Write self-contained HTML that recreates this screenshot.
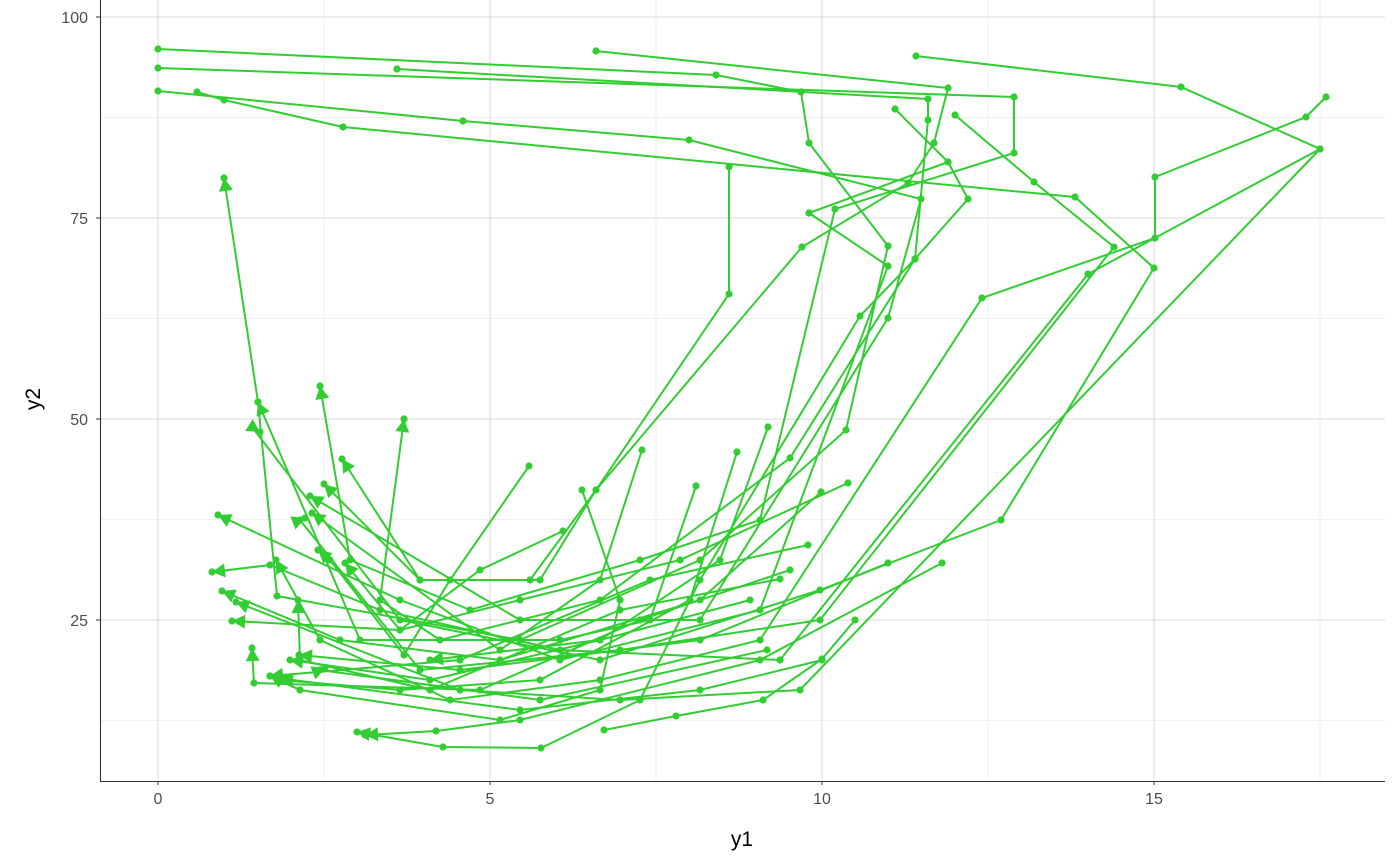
<!DOCTYPE html>
<html><head><meta charset="utf-8"><style>
body{margin:0;background:#fff;}
svg{display:block;font-family:"Liberation Sans",sans-serif;}
</style></head><body>
<svg id="s" width="1400" height="866" viewBox="0 0 1400 866">
<g stroke="#ebebeb" stroke-width="0.8">
<line x1="100" x2="1385" y1="117.5" y2="117.5"/><line x1="100" x2="1385" y1="318.5" y2="318.5"/><line x1="100" x2="1385" y1="519.5" y2="519.5"/><line x1="100" x2="1385" y1="720.5" y2="720.5"/>
<line y1="0" y2="781" x1="324" x2="324"/><line y1="0" y2="781" x1="656" x2="656"/><line y1="0" y2="781" x1="988" x2="988"/><line y1="0" y2="781" x1="1320" x2="1320"/>
</g>
<g stroke="#d9d9d9" stroke-width="1">
<line x1="100" x2="1385" y1="17" y2="17"/><line x1="100" x2="1385" y1="218" y2="218"/><line x1="100" x2="1385" y1="419" y2="419"/><line x1="100" x2="1385" y1="620" y2="620"/>
<line y1="0" y2="781" x1="158" x2="158"/><line y1="0" y2="781" x1="490" x2="490"/><line y1="0" y2="781" x1="822" x2="822"/><line y1="0" y2="781" x1="1154" x2="1154"/>
</g>
<g id="d"></g>
<line x1="100.5" y1="0" x2="100.5" y2="781" stroke="#333" stroke-width="1.1"/>
<line x1="100" y1="781.5" x2="1385" y2="781.5" stroke="#333" stroke-width="1.1"/>
<g font-size="16" fill="#4d4d4d" text-anchor="end">
<text x="88" y="23">100</text><text x="88" y="224">75</text><text x="88" y="425">50</text><text x="88" y="626">25</text>
</g>
<g stroke="#333"><line x1="96" x2="100" y1="17" y2="17"/><line x1="96" x2="100" y1="218" y2="218"/><line x1="96" x2="100" y1="419" y2="419"/><line x1="96" x2="100" y1="620" y2="620"/>
<line x1="158" x2="158" y1="781" y2="785"/><line x1="490" x2="490" y1="781" y2="785"/><line x1="822" x2="822" y1="781" y2="785"/><line x1="1154" x2="1154" y1="781" y2="785"/></g>
<g font-size="16" fill="#4d4d4d" text-anchor="middle">
<text x="158" y="804">0</text><text x="490" y="804">5</text><text x="822" y="804">10</text><text x="1154" y="804">15</text>
</g>
<text x="742" y="846" font-size="21" text-anchor="middle">y1</text>
<text transform="translate(40,399) rotate(-90)" font-size="21" text-anchor="middle">y2</text>
</svg>
<script>
var S=[
[[158,49],[716,75],[801,92],[809,143],[888,246],[846,430],[700,560],[520,640],[277,596],[258,402],[224,178]],
[[158,68],[1014,97],[1014,153],[835,209],[760,520],[640,560],[470,610],[350,560],[320,386]],
[[397,69],[928,99],[928,120],[915,259],[790,458],[600,600],[440,640],[380,600],[404,419]],
[[158,91],[463,121],[689,140],[921,199],[888,318],[700,620],[520,620],[310,496]],
[[197,92],[224,100],[343,127],[1075,197],[1154,268],[1001,520],[820,590],[600,660],[400,620],[252,427],[260,432]],
[[596,51],[948,88],[934,143],[908,183],[802,247],[596,490],[540,580],[420,580],[342,459]],
[[916,56],[1181,87],[1320,149],[1088,274],[780,660],[560,650],[380,610],[270,565],[212,572]],
[[1326,97],[1306,117],[1155,177],[1155,238],[982,298],[760,640],[600,680],[450,700],[320,640],[276,560]],
[[895,109],[948,162],[968,199],[915,259],[860,316],[700,580],[640,700],[541,748],[443,747],[357,732]],
[[955,115],[1034,182],[1114,247],[820,620],[620,650],[420,670],[300,520],[305,518]],
[[729,167],[729,294],[596,490],[530,580],[420,580],[324,484]],
[[809,213],[948,162]],
[[809,213],[888,266],[760,610],[560,660],[400,600],[218,515]],
[[1320,149],[800,690],[620,700],[460,690],[236,602]],
[[848,483],[680,560],[520,600],[400,630],[232,621]],
[[821,492],[700,600],[500,660],[340,640],[222,591]],
[[808,545],[650,580],[460,660],[270,676]],
[[790,570],[640,620],[480,690],[254,683],[252,648]],
[[780,579],[620,610],[430,690],[300,660],[298,600]],
[[750,600],[600,640],[430,680],[290,660]],
[[767,650],[540,700],[320,670],[325,668]],
[[822,660],[700,690],[520,710],[278,678]],
[[888,563],[700,640],[460,670],[299,655]],
[[942,563],[760,660],[520,720],[436,731],[365,735]],
[[855,620],[822,659],[763,700],[676,716],[604,730]],
[[529,466],[450,580],[404,655],[330,560],[318,550]],
[[563,531],[480,570],[400,630],[345,563]],
[[642,450],[600,580],[500,650],[312,513]],
[[582,490],[620,600],[600,690],[500,720],[300,690],[270,676]],
[[737,452],[690,600],[540,680],[400,690],[280,680]],
[[768,427],[720,560],[600,640],[430,660]],
[[696,486],[650,620],[560,640],[360,640],[258,402]]
];
var g=document.getElementById('d'),h='',c='#32cd32';
S.forEach(function(p){
 h+='<polyline fill="none" stroke="'+c+'" stroke-width="2" points="'+p.map(function(q){return q.join(',')}).join(' ')+'"/>';
 p.forEach(function(q){h+='<circle cx="'+q[0]+'" cy="'+q[1]+'" r="3.6" fill="'+c+'"/>';});
 var a=p[p.length-2],b=p[p.length-1],dx=b[0]-a[0],dy=b[1]-a[1],L=Math.hypot(dx,dy);
 if(p.length>3&&L>0&&b[0]<450){dx/=L;dy/=L;var bx=b[0]-dx*13,by=b[1]-dy*13;
 h+='<polygon fill="'+c+'" points="'+b[0]+','+b[1]+' '+(bx-dy*7)+','+(by+dx*7)+' '+(bx+dy*7)+','+(by-dx*7)+'"/>';}
});
g.innerHTML=h;
</script>
</body></html>
